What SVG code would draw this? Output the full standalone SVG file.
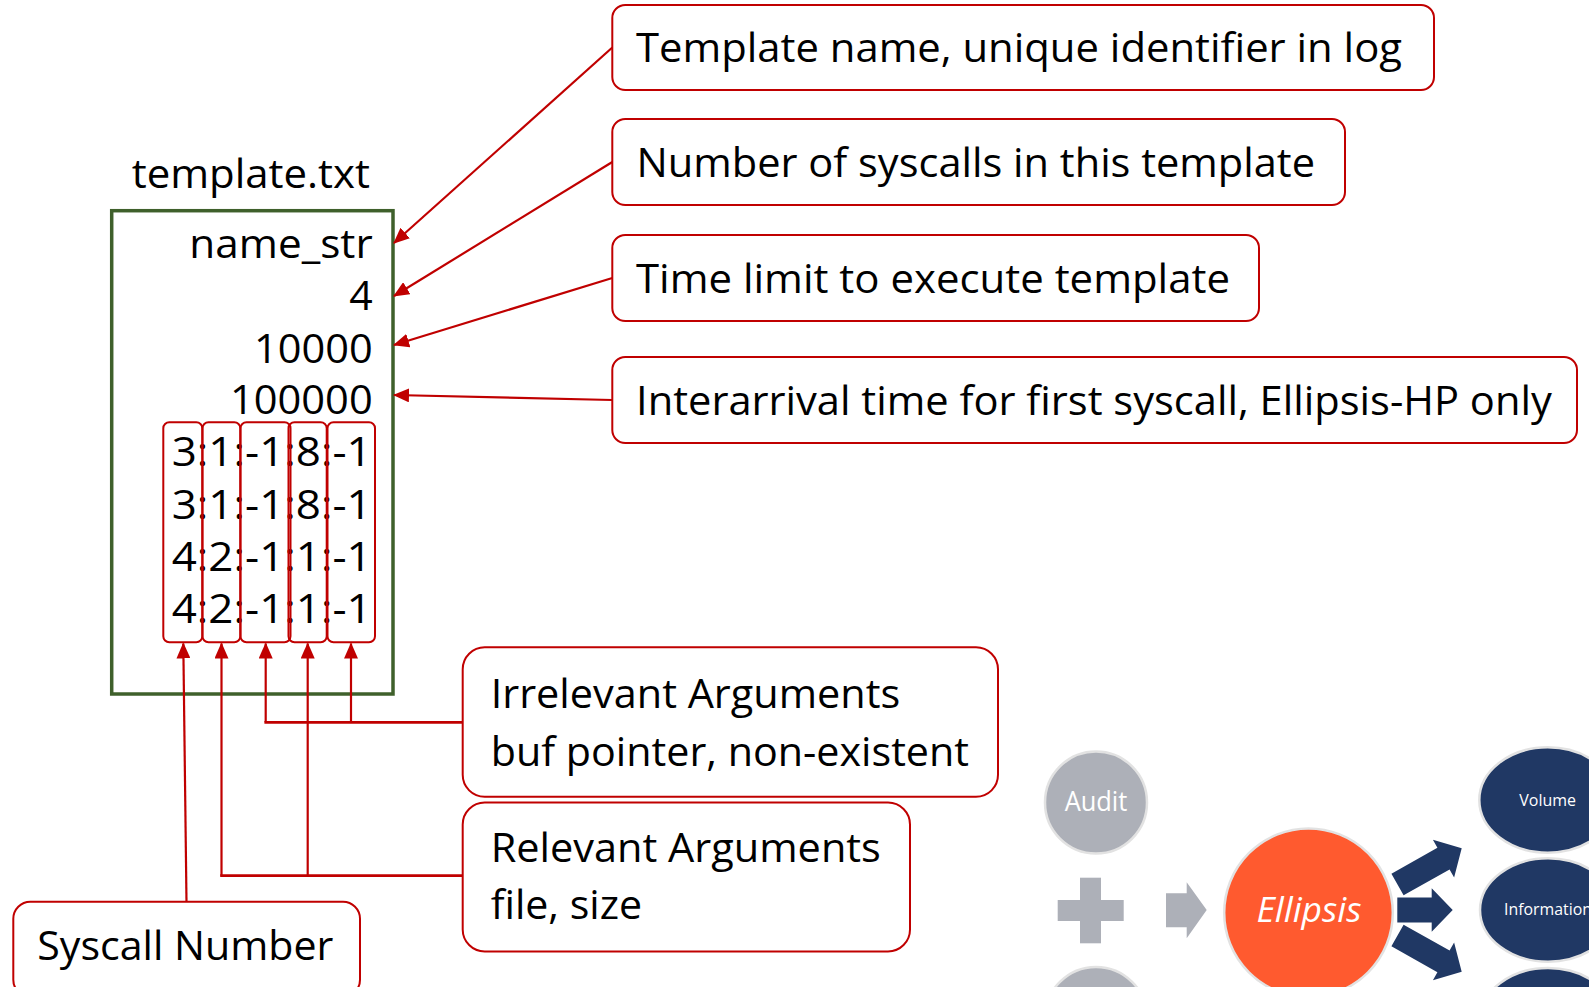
<svg xmlns="http://www.w3.org/2000/svg" width="1589" height="987" viewBox="0 0 1589 987">
  <style>
    .t { font-family: "Open Sans", "Liberation Sans", sans-serif; fill: #000; }
    .big { font-size: 41px; }
    .lbl { fill: #fff; stroke: #c00000; stroke-width: 2; }
    .cell { fill: none; stroke: #c00000; stroke-width: 2; }
    .wire { fill: none; stroke: #c00000; stroke-width: 2.2; }
    .bus { fill: none; stroke: #c00000; stroke-width: 2.7; }
    .arr { marker-end: url(#ah); }
    .grey { fill: #adb0b8; }
    .navy { fill: #203864; }
    .ring { stroke: #e2e2e2; stroke-width: 2.5; }
    .w { font-family: "Open Sans", "Liberation Sans", sans-serif; fill: #fff; }
  </style>
  <defs>
    <marker id="ah" markerUnits="userSpaceOnUse" markerWidth="16" markerHeight="14" viewBox="0 0 16 14" refX="15" refY="7" orient="auto">
      <path d="M0,0 L16,7 L0,14 Z" fill="#c00000"/>
    </marker>
    <!-- block arrow pointing along +x, starting at the origin -->
    <path id="blk" d="M0,-12.4 L52.8,-12.4 L52.8,-21.6 L73.7,0 L52.8,21.6 L52.8,12.4 L0,12.4 Z"/>
  </defs>

  <rect width="1589" height="987" fill="#fff"/>

  <!-- template file -->
  <g id="file">
    <text class="t big" x="131.7" y="188" textLength="238.3" lengthAdjust="spacingAndGlyphs">template.txt</text>
    <rect x="111.7" y="210.7" width="281.3" height="483.3" fill="none" stroke="#3f602b" stroke-width="3.5"/>
    <text class="t big" x="189.3" y="258" textLength="183.4" lengthAdjust="spacingAndGlyphs">name_str</text>
    <text class="t big" x="372.7" y="310" text-anchor="end">4</text>
    <text class="t big" x="254" y="362.7" textLength="118.7" lengthAdjust="spacingAndGlyphs">10000</text>
    <text class="t big" x="230" y="414" textLength="142.7" lengthAdjust="spacingAndGlyphs">100000</text>
    <text class="t big" x="171.7" y="466" textLength="200" lengthAdjust="spacingAndGlyphs">3:1:-1:8:-1</text>
    <text class="t big" x="171.7" y="519" textLength="200" lengthAdjust="spacingAndGlyphs">3:1:-1:8:-1</text>
    <text class="t big" x="171.7" y="570.7" textLength="200" lengthAdjust="spacingAndGlyphs">4:2:-1:1:-1</text>
    <text class="t big" x="171.7" y="622.7" textLength="200" lengthAdjust="spacingAndGlyphs">4:2:-1:1:-1</text>
  </g>

  <!-- field columns -->
  <g id="columns">
    <rect class="cell" x="163.3" y="422.3" width="39" height="220" rx="6"/>
    <rect class="cell" x="202.5" y="422.3" width="37.8" height="220" rx="6"/>
    <rect class="cell" x="240.5" y="422.3" width="50" height="220" rx="6"/>
    <rect class="cell" x="288.5" y="422.3" width="38.2" height="220" rx="6"/>
    <rect class="cell" x="327.5" y="422.3" width="47.5" height="220" rx="6"/>
  </g>

  <!-- callout labels -->
  <g id="lbl-name">
    <rect class="lbl" x="612.3" y="5" width="821.7" height="85" rx="13"/>
    <text class="t big" x="636" y="62" textLength="766" lengthAdjust="spacingAndGlyphs">Template name, unique identifier in log</text>
  </g>
  <g id="lbl-count">
    <rect class="lbl" x="612.3" y="119" width="732.7" height="86" rx="13"/>
    <text class="t big" x="636.5" y="176.7" textLength="678.5" lengthAdjust="spacingAndGlyphs">Number of syscalls in this template</text>
  </g>
  <g id="lbl-limit">
    <rect class="lbl" x="612.3" y="235" width="646.7" height="86" rx="13"/>
    <text class="t big" x="636" y="293" textLength="594" lengthAdjust="spacingAndGlyphs">Time limit to execute template</text>
  </g>
  <g id="lbl-interarrival">
    <rect class="lbl" x="612.3" y="357" width="964.7" height="86" rx="13"/>
    <text class="t big" x="636" y="415" textLength="915.8" lengthAdjust="spacingAndGlyphs">Interarrival time for first syscall, Ellipsis-HP only</text>
  </g>
  <g id="lbl-irrelevant">
    <rect class="lbl" x="462.7" y="647.3" width="535.3" height="149.5" rx="22"/>
    <text class="t big" x="490.7" y="708.3" textLength="409.5" lengthAdjust="spacingAndGlyphs">Irrelevant Arguments</text>
    <text class="t big" x="490.7" y="766" textLength="478.3" lengthAdjust="spacingAndGlyphs">buf pointer, non-existent</text>
  </g>
  <g id="lbl-relevant">
    <rect class="lbl" x="462.7" y="802.5" width="447.3" height="149" rx="22"/>
    <text class="t big" x="490.7" y="861.7" textLength="390.2" lengthAdjust="spacingAndGlyphs">Relevant Arguments</text>
    <text class="t big" x="490.7" y="919" textLength="151.3" lengthAdjust="spacingAndGlyphs">file, size</text>
  </g>
  <g id="lbl-syscall">
    <rect class="lbl" x="13.3" y="901.7" width="346.7" height="95" rx="17"/>
    <text class="t big" x="37.3" y="960" textLength="296" lengthAdjust="spacingAndGlyphs">Syscall Number</text>
  </g>

  <!-- connectors -->
  <g id="connectors">
    <path class="wire arr" d="M612.3,47.5 L394,243"/>
    <path class="wire arr" d="M612.3,162 L394,296"/>
    <path class="wire arr" d="M612.3,278 L394,345"/>
    <path class="wire arr" d="M612.3,400 L394,395"/>
    <path class="wire arr" d="M186.5,901.7 L183.3,643.5"/>
    <path class="wire arr" d="M221.5,875.7 L221.5,643.5"/>
    <path class="wire arr" d="M307.7,875.7 L307.7,643.5"/>
    <path class="wire arr" d="M265.7,722.3 L265.7,643.5"/>
    <path class="wire arr" d="M351,722.3 L351,643.5"/>
    <path class="bus" d="M220.2,875.7 L462.7,875.7"/>
    <path class="bus" d="M264.4,722.3 L462.7,722.3"/>
  </g>

  <!-- Ellipsis overview -->
  <g id="audit">
    <circle class="grey ring" cx="1096" cy="802.5" r="51"/>
    <text class="w" x="1096" y="811" font-size="27" text-anchor="middle" textLength="62.7" lengthAdjust="spacingAndGlyphs">Audit</text>
  </g>
  <g id="plus">
    <rect class="grey" x="1057.7" y="900" width="66" height="21"/>
    <rect class="grey" x="1080" y="877.7" width="21" height="65.6"/>
  </g>
  <g id="source2">
    <circle class="grey ring" cx="1096" cy="1018" r="51"/>
  </g>
  <g id="feed">
    <polygon class="grey" points="1166,893.3 1186.7,893.3 1186.7,882.3 1206.7,910 1186.7,938.3 1186.7,927.3 1166,927.3"/>
  </g>
  <g id="ellipsis">
    <circle cx="1308.5" cy="912.8" r="84.3" fill="#ff5a2f" class="ring"/>
    <text class="w" x="1309" y="921.7" font-size="35" font-style="italic" text-anchor="middle" textLength="105" lengthAdjust="spacingAndGlyphs">Ellipsis</text>
  </g>
  <g id="outputs">
    <use href="#blk" class="navy" transform="translate(1397.5,884.5) rotate(-29.4)"/>
    <polygon class="navy" points="1397.3,897.6 1431.7,897.6 1431.7,888.3 1452.7,910 1431.7,931.7 1431.7,922.4 1397.3,922.4"/>
    <use href="#blk" class="navy" transform="translate(1397.5,935.5) rotate(29.4)"/>
  </g>
  <g id="volume">
    <ellipse class="navy ring" cx="1547.7" cy="800" rx="68.4" ry="52.7"/>
    <text class="w" x="1547.7" y="806" font-size="17" text-anchor="middle" textLength="56.7" lengthAdjust="spacingAndGlyphs">Volume</text>
  </g>
  <g id="information">
    <ellipse class="navy ring" cx="1548" cy="910" rx="68" ry="51.7"/>
    <text class="w" x="1504" y="915" font-size="17" textLength="88" lengthAdjust="spacingAndGlyphs">Information</text>
  </g>
  <g id="third">
    <ellipse class="navy ring" cx="1548" cy="1020" rx="68" ry="52"/>
  </g>
</svg>
